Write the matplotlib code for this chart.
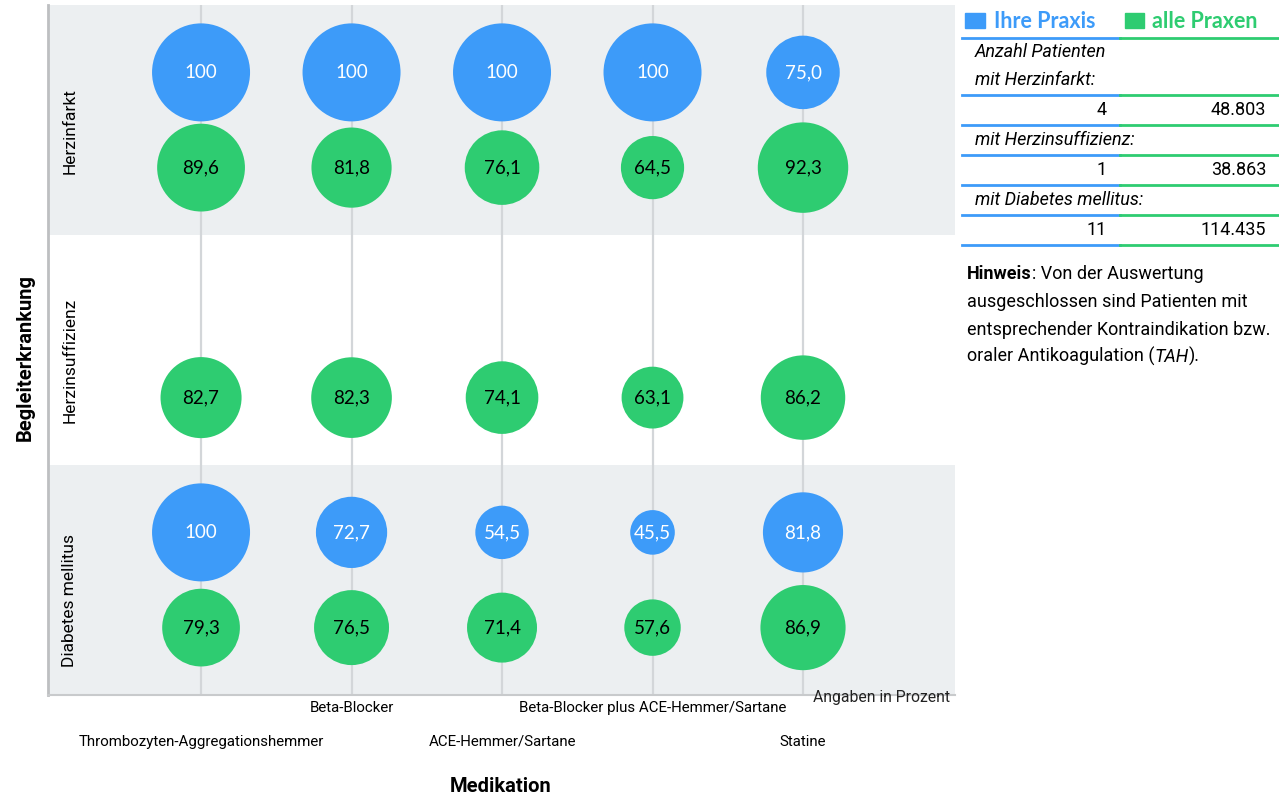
import numpy as np
import matplotlib
from matplotlib import pyplot as plt

matplotlib.use("Agg")

# ---- data ----
medikation = [
    "Thrombozyten-Aggregationshemmer",
    "Beta-Blocker",
    "ACE-Hemmer/Sartane",
    "Beta-Blocker plus ACE-Hemmer/Sartane",
    "Statine",
]
erkrankung = ["Herzinfarkt", "Herzinsuffizienz", "Diabetes mellitus"]
ihre_praxis = [
    [100, 100, 100, 100, 75.0],
    [np.nan, np.nan, np.nan, np.nan, np.nan],
    [100, 72.7, 54.5, 45.5, 81.8],
]
alle_praxen = [
    [89.6, 81.8, 76.1, 64.5, 92.3],
    [82.7, 82.3, 74.1, 63.1, 86.2],
    [79.3, 76.5, 71.4, 57.6, 86.9],
]
anzahl_labels = ["Anzahl Patienten\nmit Herzinfarkt:", "mit Herzinsuffizienz:", "mit Diabetes mellitus:"]
anzahl_ihre = ["4", "1", "11"]
anzahl_alle = ["48.803", "38.863", "114.435"]

BLUE = "#3d9bf9"
GREEN = "#2ecc71"
BAND = "#eceff1"
NARROW = ["Roboto", "DejaVu Sans"]
ROUND = ["Lato", "DejaVu Sans"]

W, H = 1279, 796
fig = plt.figure(figsize=(W / 100, H / 100), dpi=100)


def px(x, y):
    return x / W, 1 - y / H


# axes box in pixels: x 48..955, y 5..695
ax = fig.add_axes([48 / W, 1 - 695 / H, (955 - 48) / W, 690 / H])
ax.set_xlim(-1.017, 5.01)
ax.set_ylim(3, 0)

for i in range(3):
    if i != 1:
        ax.axhspan(i, i + 1, color=BAND, zorder=0, lw=0)
for j in range(len(medikation)):
    ax.axvline(j, color="#d3d6d9", lw=1.6, zorder=1)

# circle diameter ~0.98 px per percent -> points (1 px = 0.72 pt)
def size(v):
    return (np.asarray(v, dtype=float) * 0.98 * 0.72) ** 2

off = 0.207
xs = np.arange(len(medikation))
for i in range(3):
    yb = np.full(len(xs), i + 0.5 - off)
    yg = np.full(len(xs), i + 0.5 + off)
    ax.scatter(xs, yb, s=size(ihre_praxis[i]), color=BLUE, lw=0, zorder=3)
    ax.scatter(xs, yg, s=size(alle_praxen[i]), color=GREEN, lw=0, zorder=3)
    for j in xs:
        v = ihre_praxis[i][j]
        if not np.isnan(v):
            t = "100" if v == 100 else f"{v:.1f}".replace(".", ",")
            ax.text(j, yb[j], t, color="white", ha="center", va="center",
                    fontsize=13.5, family=ROUND, zorder=4)
        g = alle_praxen[i][j]
        ax.text(j, yg[j], f"{g:.1f}".replace(".", ","), color="black", ha="center",
                va="center", fontsize=13.5, family=ROUND, zorder=4)

# row labels
row_y = [0.548, 1.543, 2.591]
for name, y in zip(erkrankung, row_y):
    ax.text(0.024, y, name, transform=ax.get_yaxis_transform(), rotation=90,
            ha="center", va="center", fontsize=12.5, family=NARROW)

ax.set_xticks([])
ax.set_yticks([])
for s in ["top", "right"]:
    ax.spines[s].set_visible(False)
ax.spines["left"].set_color("#bdbfc1")
ax.spines["left"].set_linewidth(2)
ax.spines["bottom"].set_color("#c8cacc")
ax.spines["bottom"].set_linewidth(1.5)

# staggered medication labels
for j, name in enumerate(medikation):
    yy = -0.019 if j % 2 else -0.068
    ax.text(j, yy, name, transform=ax.get_xaxis_transform(), ha="center",
            va="center", fontsize=10.8, family=NARROW)

ax.text(0.995, -0.01, "Angaben in Prozent", transform=ax.transAxes, ha="right",
        va="baseline", fontsize=11.3, family=NARROW, color="#222222")

fig.text(*px(25, 358), "Begleiterkrankung", rotation=90, ha="center", va="center",
         fontsize=14.5, fontweight="bold", family=NARROW)
fig.text(*px(501, 786), "Medikation", ha="center", va="center",
         fontsize=14.5, fontweight="bold", family=NARROW)

# legend
fig.patches.append(plt.Rectangle(px(965, 28), 20 / W, 15 / H, color=BLUE,
                                 transform=fig.transFigure))
fig.patches.append(plt.Rectangle(px(1125, 28), 19 / W, 15 / H, color=GREEN,
                                 transform=fig.transFigure))
fig.text(*px(994, 22), "Ihre Praxis", color=BLUE, ha="left", va="center",
         fontsize=15.5, fontweight="bold", family=ROUND)
fig.text(*px(1152, 22), "alle Praxen", color=GREEN, ha="left", va="center",
         fontsize=15.5, fontweight="bold", family=ROUND)

# patient count table
for y in [38, 95, 125, 155, 185, 215, 245]:
    fig.add_artist(plt.Line2D([962 / W, 1120 / W], [1 - y / H] * 2, color=BLUE,
                              lw=2, transform=fig.transFigure))
    fig.add_artist(plt.Line2D([1120 / W, 1279 / W], [1 - y / H] * 2, color=GREEN,
                              lw=2, transform=fig.transFigure))
label_y = [66, 140, 200]
value_y = [110, 170, 230]
for lab, ly, vy, a, b in zip(anzahl_labels, label_y, value_y, anzahl_ihre, anzahl_alle):
    fig.text(*px(975, ly), lab, ha="left", va="center", fontsize=13,
             style="italic", family=NARROW, linespacing=1.75)
    fig.text(*px(1107, vy), a, ha="right", va="center", fontsize=13, family=NARROW)
    fig.text(*px(1266, vy), b, ha="right", va="center", fontsize=13, family=NARROW)

# note below the table
note_kw = dict(fontsize=13, family=NARROW, va="baseline")
t = fig.text(*px(967, 279), "Hinweis", fontweight="bold", ha="left", **note_kw)
rest = fig.text(0, 0, ": Von der Auswertung", **note_kw)
fig.canvas.draw()
bb = t.get_window_extent()
rest.set_position((bb.x1 / W, t.get_position()[1]))
for k, line in enumerate(["ausgeschlossen sind Patienten mit",
                          "entsprechender Kontraindikation bzw."]):
    fig.text(*px(967, 307 + 28 * k), line, ha="left", **note_kw)
p1 = fig.text(*px(967, 362), "oraler Antikoagulation (", ha="left", **note_kw)
fig.canvas.draw()
x1 = p1.get_window_extent().x1
p2 = fig.text(x1 / W, 1 - 362 / H, "TAH", style="italic", ha="left", **note_kw)
fig.canvas.draw()
x2 = p2.get_window_extent().x1
fig.text(x2 / W, 1 - 362 / H, ").", ha="left", **note_kw)

fig.savefig("out.png", dpi=100)
